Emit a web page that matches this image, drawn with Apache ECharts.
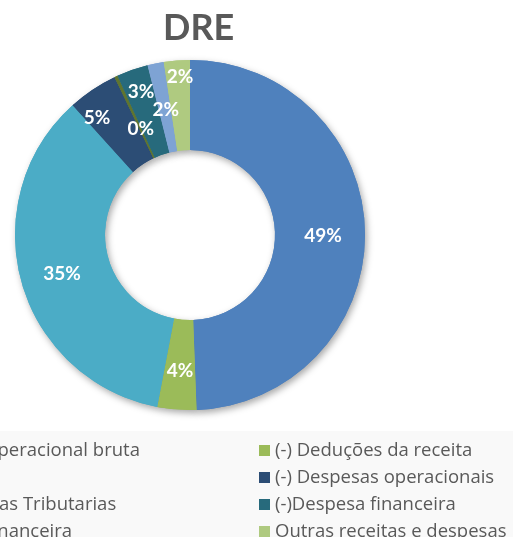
<!DOCTYPE html>
<html>
<head>
<meta charset="utf-8">
<script src="https://cdn.jsdelivr.net/npm/echarts@6/dist/echarts.min.js"></script>
<style>
  html, body { margin: 0; padding: 0; background: #fff; overflow: hidden; }
  #echarts-main { width: 513px; height: 537px; }
</style>
</head>
<body>
<div id="echarts-main"></div>
<script>
// dados (participacao em %)
var categorias = [
    'Receita operacional bruta',
    '(-) Deduções da receita',
    '(-) CPV',
    '(-) Despesas operacionais',
    '(-)Despesas Tributarias',
    '(-)Despesa financeira',
    'Receita financeira',
    'Outras receitas e despesas'
];
var valores = [49.4, 3.6, 35.3, 4.6, 0.3, 2.9, 1.5, 2.4];
var cores = ['#4f81bd', '#9bbb59', '#4bacc6', '#2c4d75', '#5f7530', '#276a7c', '#7ea3d4', '#afca80'];

var colunaEsq = [categorias[0], categorias[2], categorias[4], categorias[6]];
var colunaDir = [categorias[1], categorias[3], categorias[5], categorias[7]];

// ajuste dos rotulos pequenos (como o Excel afasta para nao sobrepor)
var ajusteRotulo = {
    3: [-19, -10],
    4: [7, 11],
    5: [-5, -21],
    6: [2, 2],
    7: [0, -29]
};

var myChart = echarts.init(document.getElementById('echarts-main'));

var dados = categorias.map(function (nome, i) {
    return { name: nome, value: valores[i] };
});

var fonte = 'Lato, "Open Sans", sans-serif';
var fonteLegenda = '"Open Sans", sans-serif';
var legendaTexto = { color: '#595959', fontSize: 18.5, lineHeight: 18, fontFamily: fonteLegenda };

// a coluna da esquerda fica cortada: o texto da 1a linha termina em x=140
var ctx = document.createElement('canvas').getContext('2d');
ctx.font = '18.5px "Open Sans"';
var esqLeft = Math.round(140 - ctx.measureText(categorias[0]).width - 16);

option1 = {
    backgroundColor: '#fff',
    color: cores,
    title: {
        text: 'DRE',
        left: 163,
        top: 10,
        padding: 0,
        textStyle: { color: '#595959', fontSize: 36, lineHeight: 36, fontWeight: 'bold', fontFamily: fonte }
    },
    graphic: [{
        type: 'rect',
        z: -10,
        silent: true,
        shape: { x: 0, y: 431, width: 513, height: 106 },
        style: { fill: '#f9f9f9' }
    }],
    legend: [{
        orient: 'vertical',
        left: esqLeft,
        top: 441,
        height: 120,
        padding: 0,
        itemGap: 8,
        itemWidth: 11,
        itemHeight: 11,
        icon: 'rect',
        data: colunaEsq,
        textStyle: legendaTexto
    }, {
        orient: 'vertical',
        left: 259,
        top: 441,
        height: 120,
        padding: 0,
        itemGap: 8,
        itemWidth: 11,
        itemHeight: 11,
        icon: 'rect',
        data: colunaDir,
        textStyle: legendaTexto
    }],
    series: [
        {
            name: 'DRE',
            type: 'pie',
            z: 3,
            center: [190, 235],
            radius: [85, 175],
            startAngle: 90,
            avoidLabelOverlap: false,
            silent: true,
            itemStyle: { borderWidth: 0 },
            label: {
                show: true,
                position: 'inside',
                color: '#fff',
                fontSize: 19,
                fontWeight: 'bold',
                fontFamily: fonte,
                formatter: function (p) { return Math.round(p.percent) + '%'; }
            },
            labelLayout: function (p) {
                var a = ajusteRotulo[p.dataIndex] || [0, 0];
                return { dx: a[0], dy: a[1] + 3 };
            },
            labelLine: { show: false },
            data: dados
        },
        {
            // sombra do anel (fica por baixo)
            name: 'sombra',
            type: 'pie',
            z: 1,
            center: [190, 235],
            radius: [85, 175],
            startAngle: 90,
            silent: true,
            label: { show: false },
            labelLine: { show: false },
            itemStyle: {
                shadowBlur: 7,
                shadowOffsetX: 2,
                shadowOffsetY: 3,
                shadowColor: 'rgba(0,0,0,0.35)'
            },
            data: dados
        }
    ]
};

myChart.setOption(option1);
</script>
</body>
</html>
